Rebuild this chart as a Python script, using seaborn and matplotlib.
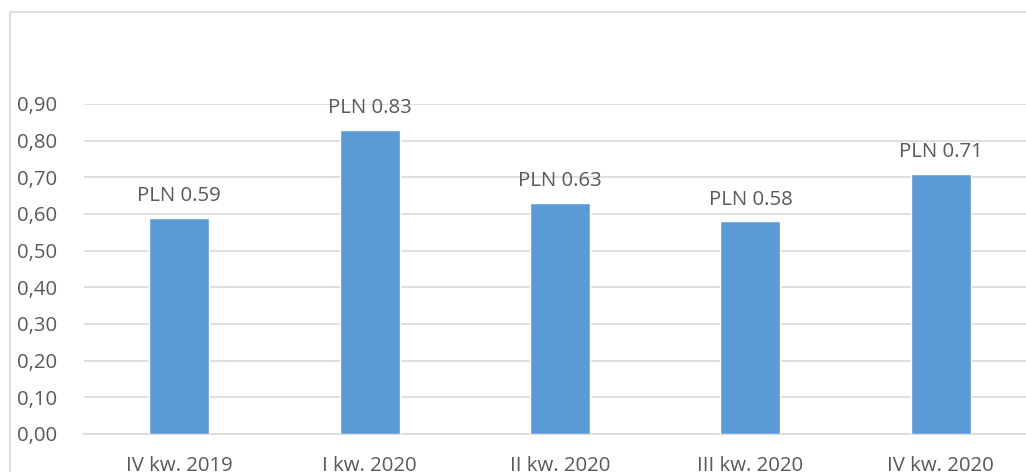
import matplotlib
matplotlib.use("Agg")
import matplotlib.pyplot as plt
from matplotlib.patches import Rectangle
from matplotlib.ticker import FixedLocator, FuncFormatter
import pandas as pd
import seaborn as sns

quarters = ["IV kw. 2019", "I kw. 2020", "II kw. 2020", "III kw. 2020", "IV kw. 2020"]
dividend = [0.59, 0.83, 0.63, 0.58, 0.71]
y_ticks = [0.0, 0.1, 0.2, 0.3, 0.4, 0.5, 0.6, 0.7, 0.8, 0.9]

df = pd.DataFrame({"quarter": quarters, "value": dividend})

sns.set_theme(style="white")
plt.rcParams["font.family"] = ["Open Sans", "DejaVu Sans"]

TEXT = "#595959"
GRID = "#d9d9d9"
BAR = "#5b9bd5"
FS = 14.7
W, H = 1026, 472

fig = plt.figure(figsize=(W / 100, H / 100), dpi=100)
ax = fig.add_axes([84 / W, 38 / H, (1036 - 84) / W, 330 / H])

sns.barplot(data=df, x="quarter", y="value", color=BAR, saturation=1,
            width=0.315, ax=ax, zorder=3)

ax.set_xlim(-0.5, len(quarters) - 0.5)
ax.set_ylim(0, 0.9)
ax.set_xlabel("")
ax.set_ylabel("")

ax.yaxis.set_major_locator(FixedLocator(y_ticks))
ax.yaxis.set_major_formatter(FuncFormatter(lambda v, _: f"{v:.2f}".replace(".", ",")))
ax.grid(axis="y", color=GRID, linewidth=1.2, zorder=0)
ax.tick_params(axis="y", length=0, pad=19, labelsize=FS, labelcolor=TEXT)

# category boundary tick marks below the axis line
ax.set_xticks([i - 0.5 for i in range(len(quarters) + 1)], minor=True)
ax.tick_params(axis="x", which="minor", length=6, width=1.2, color=GRID, direction="out")
ax.tick_params(axis="x", which="major", length=0, pad=15.5, labelsize=FS, labelcolor=TEXT)

for side in ["left", "right", "top"]:
    ax.spines[side].set_visible(False)
ax.spines["bottom"].set_color(GRID)
ax.spines["bottom"].set_linewidth(1.2)

for i, v in enumerate(dividend):
    ax.annotate(f"PLN {v:.2f}", (i, v), xytext=(0, 12), textcoords="offset points",
                ha="center", va="baseline", fontsize=FS, color=TEXT,
                annotation_clip=False)

# outer chart frame
fig.patches.append(Rectangle((10 / W, -0.1), 1.2, (H - 12) / H + 0.1,
                             transform=fig.transFigure, fill=False,
                             edgecolor=GRID, linewidth=1.2))

fig.savefig("out.png", dpi=100)
